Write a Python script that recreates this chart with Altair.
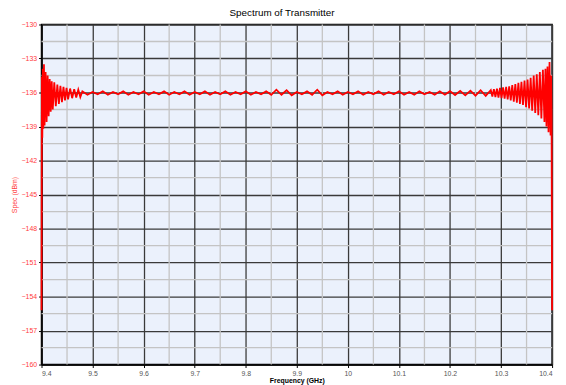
import altair as alt
import pandas as pd

# ---- data ----
freq_left = [9.4000, 9.4008, 9.4016, 9.4025, 9.4035, 9.4048, 9.406, 9.408, 9.410, 9.412,
             9.414, 9.416, 9.418, 9.420, 9.422, 9.425, 9.428, 9.431, 9.434, 9.437,
             9.440, 9.443, 9.446, 9.449, 9.452, 9.456, 9.460, 9.464, 9.468, 9.472, 9.476]
spec_left = [-155.2, -134.6, -140.0, -133.9, -139.2, -133.5, -138.9, -134.2, -138.6, -134.5,
             -138.1, -134.8, -137.7, -135.0, -137.5, -135.1, -137.2, -135.3, -137.0, -135.4,
             -136.85, -135.5, -136.7, -135.6, -136.6, -135.65, -136.5, -135.7, -136.45, -135.75, -136.4]

freq_mid = [9.48, 9.49, 9.50, 9.51, 9.52, 9.53, 9.54, 9.55, 9.56, 9.57,
            9.58, 9.59, 9.60, 9.61, 9.62, 9.63, 9.64, 9.65, 9.66, 9.67,
            9.68, 9.69, 9.70, 9.71, 9.72, 9.73, 9.74, 9.75, 9.76, 9.77,
            9.78, 9.79, 9.80, 9.81, 9.82, 9.83, 9.84, 9.85, 9.86, 9.87,
            9.88, 9.89, 9.90, 9.91, 9.92, 9.93, 9.94, 9.95, 9.96, 9.97,
            9.98, 9.99, 10.00, 10.01, 10.02, 10.03, 10.04, 10.05, 10.06, 10.07,
            10.08, 10.09, 10.10, 10.11, 10.12, 10.13, 10.14, 10.15, 10.16, 10.17,
            10.18, 10.19, 10.20, 10.21, 10.22, 10.23, 10.24, 10.25, 10.26, 10.27,
            10.28]
spec_mid = [-135.9, -136.2, -135.95, -136.15, -135.9, -136.2, -135.95, -136.15, -135.9, -136.2,
            -135.95, -136.15, -135.9, -136.2, -135.95, -136.15, -135.9, -136.2, -135.95, -136.15,
            -135.9, -136.2, -135.95, -136.15, -135.9, -136.2, -135.95, -136.15, -135.9, -136.2,
            -135.95, -136.15, -135.9, -136.2, -135.95, -136.15, -135.9, -136.2, -135.75, -136.2,
            -135.8, -136.25, -135.95, -136.15, -135.9, -136.2, -135.75, -136.25, -135.95, -136.15,
            -135.9, -136.2, -135.95, -136.15, -135.9, -136.2, -135.95, -136.15, -135.9, -136.2,
            -135.95, -136.15, -135.9, -136.2, -135.95, -136.2, -135.9, -136.15, -135.95, -136.2,
            -135.9, -136.2, -135.88, -136.22, -135.86, -136.25, -135.84, -136.28, -135.8, -136.3,
            -135.78]

freq_right = [10.283, 10.286, 10.289, 10.292, 10.295, 10.298, 10.301, 10.304, 10.307, 10.310,
              10.313, 10.316, 10.319, 10.322, 10.325, 10.328, 10.331, 10.334, 10.337, 10.340,
              10.343, 10.346, 10.349, 10.352, 10.355, 10.358, 10.361, 10.364, 10.367, 10.370,
              10.373, 10.376, 10.379, 10.382, 10.385, 10.387, 10.389, 10.391, 10.393, 10.395,
              10.397, 10.398, 10.399, 10.400]
spec_right = [-136.35, -135.7, -136.4, -135.65, -136.45, -135.6, -136.5, -135.55, -136.55, -135.5,
              -136.6, -135.45, -136.7, -135.35, -136.8, -135.25, -136.9, -135.15, -137.0, -135.05,
              -137.1, -134.95, -137.3, -134.85, -137.4, -134.7, -137.6, -134.5, -137.8, -134.4,
              -138.0, -134.2, -138.3, -134.0, -138.6, -133.9, -139.0, -133.7, -139.5, -133.3,
              -139.8, -134.5, -138.0, -155.2]

x_ticks = [9.4, 9.5, 9.6, 9.7, 9.8, 9.9, 10.0, 10.1, 10.2, 10.3, 10.4]
y_ticks = [-160, -157, -154, -151, -148, -145, -142, -139, -136, -133, -130]
minor_x = [9.45, 9.55, 9.65, 9.75, 9.85, 9.95, 10.05, 10.15, 10.25, 10.35]
minor_y = [-158.5, -155.5, -152.5, -149.5, -146.5, -143.5, -140.5, -137.5, -134.5, -131.5]

df = pd.DataFrame({
    "f": freq_left + freq_mid + freq_right,
    "s": spec_left + spec_mid + spec_right,
})
df["i"] = range(len(df))

xscale = alt.Scale(domain=[9.4, 10.4], nice=False, zero=False)
yscale = alt.Scale(domain=[-160, -130], nice=False, zero=False)

FONT = "Liberation Sans"

xaxis = alt.Axis(values=x_ticks, format=".1~f", title="Frequency (GHz)",
                 labelColor="#555555", labelFontSize=7, labelFont=FONT, labelPadding=2,
                 titleFontSize=7, titleFont=FONT, titleFontWeight="bold", titleColor="black",
                 titlePadding=0, grid=True, gridColor="#3a3a3a", gridWidth=1.3,
                 domainColor="black", domainWidth=1.5, tickColor="black", tickSize=3)
yaxis = alt.Axis(values=y_ticks, title="Spec (dBm)",
                 labelColor="#ff3b3b", labelFontSize=7, labelFont=FONT, labelPadding=2,
                 titleFontSize=7, titleFont=FONT, titleFontWeight="normal", titleColor="#ff3b3b",
                 titlePadding=4, grid=True, gridColor="#3a3a3a", gridWidth=1.3,
                 domainColor="black", domainWidth=1.5, tickColor="black", tickSize=3)

vminor = alt.Chart(pd.DataFrame({"mx": minor_x})).mark_rule(
    color="#c4c4c4", strokeWidth=1.3
).encode(x=alt.X("mx:Q", scale=xscale, axis=xaxis))

hminor = alt.Chart(pd.DataFrame({"my": minor_y})).mark_rule(
    color="#c4c4c4", strokeWidth=1.3
).encode(y=alt.Y("my:Q", scale=yscale, axis=yaxis))

line = alt.Chart(df).mark_line(color="#ff0000", strokeWidth=1.8).encode(
    x=alt.X("f:Q", scale=xscale, axis=xaxis),
    y=alt.Y("s:Q", scale=yscale, axis=yaxis),
    order="i:Q",
)

chart = alt.layer(vminor, hminor, line).properties(
    width=518, height=345,
    title=alt.TitleParams("Spectrum of Transmitter", fontSize=10, font=FONT,
                          fontWeight="normal", color="black", offset=3, dx=-15),
    autosize=alt.AutoSizeParams(type="none"),
    padding={"left": 34, "top": 14, "right": 6, "bottom": 18},
).configure_view(
    fill="#ebf1fc", stroke="black", strokeWidth=1.5
)

chart.save("out.html", embed_options={"renderer": "svg", "actions": False})
